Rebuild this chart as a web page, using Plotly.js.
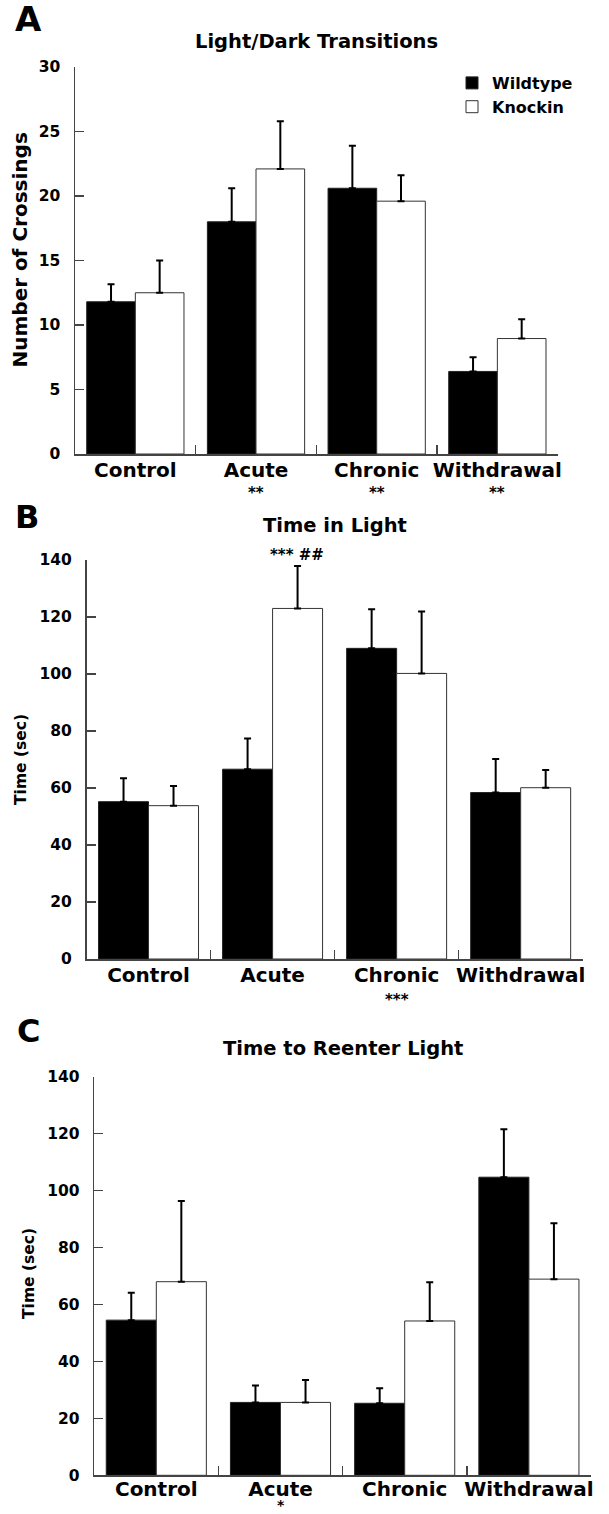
<!DOCTYPE html>
<html>
<head>
<meta charset="utf-8">
<script src="https://cdn.plot.ly/plotly-3.0.1.min.js"></script>
<style>html,body{margin:0;padding:0;background:#fff}#chart{width:609px;height:1514px}</style>
</head>
<body>
<div id="chart"></div>
<script>
// ---- data ----
const categories = ["Control", "Acute", "Chronic", "Withdrawal"];
const seriesNames = ["Wildtype", "Knockin"];

// Panel A: Light/Dark Transitions (number of crossings)
const crossWT    = [11.8, 18.0, 20.6, 6.4];
const crossWTErr = [1.35, 2.6, 3.3, 1.1];
const crossKI    = [12.5, 22.1, 19.6, 8.95];
const crossKIErr = [2.5, 3.7, 2.0, 1.5];

// Panel B: Time in Light (sec)
const lightWT    = [55.2, 66.6, 109.0, 58.4];
const lightWTErr = [8.2, 10.8, 13.7, 11.8];
const lightKI    = [53.8, 123.0, 100.2, 60.1];
const lightKIErr = [6.9, 14.9, 21.7, 6.2];

// Panel C: Time to Reenter Light (sec)
const reenterWT    = [54.5, 25.6, 25.3, 104.7];
const reenterWTErr = [9.6, 5.9, 5.3, 16.8];
const reenterKI    = [68.0, 25.6, 54.2, 68.9];
const reenterKIErr = [28.3, 7.9, 13.6, 19.6];

// significance marks below category labels
const starsA = ["", "**", "**", "**"];
const starsB = ["", "", "***", ""];
const starsC = ["", "*", "", ""];
const markB_KI_Acute = "*** ##";

// ---- layout helpers ----
const W = 609, H = 1514;
const px = x => x / W;
const py = y => 1 - y / H;
const FONT = "DejaVu Sans";
const tickColor = "#444";

function bars(xa, ya, wt, wtErr, ki, kiErr, showLegend) {
  const errStyle = {type: "data", symmetric: false, color: "#000", thickness: 2, width: 3.5};
  return [
    {type: "bar", name: seriesNames[0], x: categories, y: wt, xaxis: xa, yaxis: ya,
     marker: {color: "#000", line: {color: "#222", width: 1}},
     error_y: Object.assign({array: wtErr, arrayminus: wt.map(() => 0)}, errStyle),
     showlegend: showLegend, legendgroup: "wt", hoverinfo: "skip"},
    {type: "bar", name: seriesNames[1], x: categories, y: ki, xaxis: xa, yaxis: ya,
     marker: {color: "#fff", line: {color: "#333", width: 1}},
     error_y: Object.assign({array: kiErr, arrayminus: ki.map(() => 0)}, errStyle),
     showlegend: showLegend, legendgroup: "ki", hoverinfo: "skip"}
  ];
}

const data = [].concat(
  bars("x", "y", crossWT, crossWTErr, crossKI, crossKIErr, true),
  bars("x2", "y2", lightWT, lightWTErr, lightKI, lightKIErr, false),
  bars("x3", "y3", reenterWT, reenterWTErr, reenterKI, reenterKIErr, false)
);

function xAxis(x0, x1, anchor, standoff) {
  return {domain: [px(x0), px(x1)], anchor: anchor, type: "category",
    showline: true, linecolor: tickColor, linewidth: 1.5,
    ticks: "inside", tickson: "boundaries", ticklen: 9, tickwidth: 1.5, tickcolor: tickColor,
    showgrid: false, zeroline: false, fixedrange: true, tickangle: 0, automargin: false,
    ticklabelstandoff: standoff,
    tickfont: {family: FONT, size: 20, weight: "bold", color: "#000"}};
}
function yAxis(yBottom, yTop, anchor, range, dtick) {
  return {domain: [py(yBottom), py(yTop)], anchor: anchor, range: range, dtick: dtick,
    showline: true, linecolor: tickColor, linewidth: 1.5,
    ticks: "inside", ticklen: 9, tickwidth: 1.5, tickcolor: tickColor,
    showgrid: false, zeroline: false, fixedrange: true, ticklabelstandoff: 10,
    tickfont: {family: FONT, size: 15.5, weight: "bold", color: "#000"}};
}

const annotations = [];
function txt(text, x, y, size, opts) {
  annotations.push(Object.assign({text: text, x: px(x), y: py(y), xref: "paper", yref: "paper",
    showarrow: false, xanchor: "center", yanchor: "middle",
    font: {family: FONT, size: size, weight: "bold", color: "#000"}}, opts || {}));
}
function stars(list, xa, ya, shift, opts) {
  list.forEach((s, i) => {
    if (!s) return;
    annotations.push(Object.assign({text: s, x: categories[i], y: 0, xref: xa, yref: ya, yshift: shift,
      showarrow: false, xanchor: "center", yanchor: "top",
      font: {family: FONT, size: 15, weight: "bold", color: "#000"}}, opts || {}));
  });
}
function panelTitle(text, xa, y) {
  annotations.push({text: text, x: 0.5, y: py(y), xref: xa + " domain", yref: "paper",
    showarrow: false, xanchor: "center", yanchor: "middle",
    font: {family: FONT, size: 19.5, weight: "bold", color: "#000"}});
}

// panel letters
txt("A", 28, 19, 34);
txt("B", 27, 517, 32);
txt("C", 28, 1031, 32);
// panel titles
panelTitle("Light/Dark Transitions", "x", 41);
panelTitle("Time in Light", "x2", 525);
panelTitle("Time to Reenter Light", "x3", 1048);
// y axis titles
txt("Number of Crossings", 19.5, 250, 20, {textangle: -90});
txt("Time (sec)", 21, 760, 15.5, {textangle: -90});
txt("Time (sec)", 29, 1274, 15.5, {textangle: -90});
// significance
stars(starsA, "x", "y", -28);
stars(starsB, "x2", "y2", -30);
stars(starsC, "x3", "y3", -38.5, {yanchor: "bottom", borderpad: 0,
  font: {family: FONT, size: 14, weight: "bold", color: "#000"}});
annotations.push({text: markB_KI_Acute, x: 1.2, y: lightKI[1] + lightKIErr[1], xref: "x2", yref: "y2",
  yanchor: "bottom", xanchor: "center", showarrow: false, yshift: 0,
  font: {family: FONT, size: 15, weight: "bold", color: "#000"}});

const layout = {
  width: W, height: H, margin: {l: 0, r: 0, t: 0, b: 0},
  paper_bgcolor: "#fff", plot_bgcolor: "rgba(0,0,0,0)",
  barmode: "group", bargap: 0.194, bargroupgap: 0,
  showlegend: true,
  legend: {x: px(452), y: py(66), xanchor: "left", yanchor: "top",
    bgcolor: "rgba(0,0,0,0)", tracegroupgap: 0,
    font: {family: FONT, size: 16, weight: "bold", color: "#000"}},
  xaxis: xAxis(75, 557.7, "y", -3),
  yaxis: yAxis(454, 67, "x", [0, 30], 5),
  xaxis2: xAxis(86.5, 582.7, "y2", -3),
  yaxis2: yAxis(959, 560, "x2", [0, 140], 20),
  xaxis3: xAxis(94.2, 591, "y3", -5),
  yaxis3: yAxis(1475.3, 1076.7, "x3", [0, 140], 20),
  annotations: annotations
};

Plotly.newPlot("chart", data, layout, {staticPlot: true, displayModeBar: false});
</script>
</body>
</html>
